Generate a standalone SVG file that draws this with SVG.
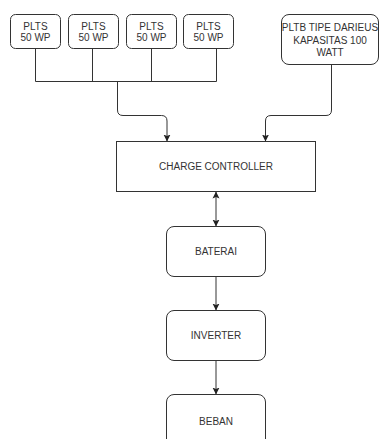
<svg xmlns="http://www.w3.org/2000/svg" width="379" height="439" viewBox="0 0 379 439">
<style>
.box{fill:#fff;stroke:#333;stroke-width:1}
.t{font-family:"Liberation Sans",Arial,sans-serif;font-size:10px;fill:#333;text-anchor:middle}
.c{fill:none;stroke:#333;stroke-width:1}
</style>
<defs>
<marker id="ah" markerUnits="userSpaceOnUse" markerWidth="8" markerHeight="8" refX="7" refY="4" orient="auto-start-reverse">
<path d="M0,0.5 L7,4 L0,7.5 L1.5,4 Z" fill="#222" stroke="none"/>
</marker>
</defs>
<rect width="379" height="439" fill="#fff"/>
<g id="connectors">
<path class="c" d="M35.5,48.5 V81.5 H216.5 V48.5"/>
<path class="c" d="M92.5,48.5 V81.5"/>
<path class="c" d="M151.5,48.5 V81.5"/>
<path class="c" d="M117.5,81.5 V110 Q117.5,115.5 123,115.5 H161.5 Q167,115.5 167,121 V141.5" marker-end="url(#ah)"/>
<path class="c" d="M331.5,64.5 V110 Q331.5,115.5 326,115.5 H271 Q265.5,115.5 265.5,121 V141.5" marker-end="url(#ah)"/>
<path class="c" d="M216,191.5 V226.5" marker-start="url(#ah)" marker-end="url(#ah)"/>
<path class="c" d="M216,276.5 V310.5" marker-end="url(#ah)"/>
<path class="c" d="M216,360.5 V394.5" marker-end="url(#ah)"/>
</g>
<g id="plts1"><rect class="box" x="10.5" y="14.5" width="50" height="34" rx="5"/><text class="t" x="35.5" y="29.5">PLTS</text><text class="t" x="35.5" y="41">50 WP</text></g>
<g id="plts2"><rect class="box" x="68.5" y="14.5" width="50" height="34" rx="5"/><text class="t" x="93.5" y="29.5">PLTS</text><text class="t" x="93.5" y="41">50 WP</text></g>
<g id="plts3"><rect class="box" x="126.5" y="14.5" width="50" height="34" rx="5"/><text class="t" x="151.5" y="29.5">PLTS</text><text class="t" x="151.5" y="41">50 WP</text></g>
<g id="plts4"><rect class="box" x="183.5" y="14.5" width="50" height="34" rx="5"/><text class="t" x="208.5" y="29.5">PLTS</text><text class="t" x="208.5" y="41">50 WP</text></g>
<g id="pltb"><rect class="box" x="281.5" y="14.5" width="97" height="50" rx="7.5"/><text class="t" x="330" y="31">PLTB TIPE DARIEUS</text><text class="t" x="330" y="43.5">KAPASITAS 100</text><text class="t" x="330" y="55.5">WATT</text></g>
<g id="cc"><rect class="box" x="116.5" y="141.5" width="199" height="50"/><text class="t" x="216" y="170">CHARGE CONTROLLER</text></g>
<g id="baterai"><rect class="box" x="166.5" y="226.5" width="99" height="50" rx="7.5"/><text class="t" x="216" y="255">BATERAI</text></g>
<g id="inverter"><rect class="box" x="166.5" y="310.5" width="99" height="50" rx="7.5"/><text class="t" x="216" y="339">INVERTER</text></g>
<g id="beban"><rect class="box" x="166.5" y="394.5" width="99" height="60" rx="7.5"/><text class="t" x="216" y="425">BEBAN</text></g>
</svg>
